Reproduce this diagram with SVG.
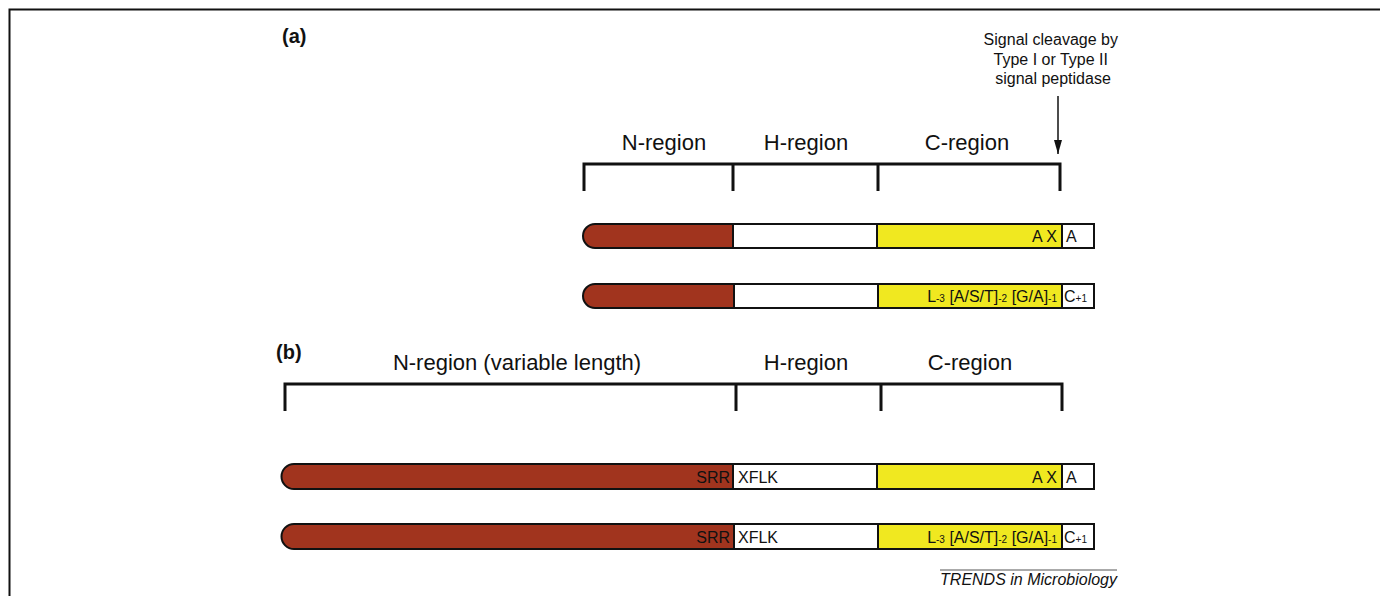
<svg xmlns="http://www.w3.org/2000/svg" width="1380" height="596" viewBox="0 0 1380 596">
  <style>
    .t { font-family: "Liberation Sans", Arial, sans-serif; fill: #111; }
    .lab { font-size: 22px; text-anchor: middle; }
    .seg { stroke: #111; stroke-width: 2; }
    .n { fill: #a1341e; }
    .h { fill: #ffffff; }
    .c { fill: #f0e820; }
    .brk { fill: none; stroke: #111; stroke-width: 3; }
    .in { font-size: 16px; }
    .sub { font-size: 10px; }
  </style>
  <defs>
    <marker id="arrow" viewBox="0 0 14 8" refX="14" refY="4" markerWidth="14" markerHeight="8" orient="auto" markerUnits="userSpaceOnUse">
      <path d="M0,0 L14,4 L0,8 z" fill="#111"/>
    </marker>
  </defs>

  <rect width="1380" height="596" fill="#fff"/>
  <!-- frame -->
  <path d="M1380,9.5 H9.5 V596" fill="none" stroke="#111" stroke-width="2"/>

  <!-- panel (a) -->
  <text class="t" x="282" y="43" font-size="20" font-weight="bold">(a)</text>

  <g id="a-brackets">
    <path class="brk" d="M584,191 V164 H1060 V191 M733,164 V191 M878,164 V191"/>
    <text class="t lab" x="664" y="150">N-region</text>
    <text class="t lab" x="806" y="150">H-region</text>
    <text class="t lab" x="967" y="150">C-region</text>
  </g>

  <g id="cleavage-label">
    <text class="t" font-size="16" text-anchor="middle">
      <tspan x="1053" y="45">Signal cleavage by</tspan>
      <tspan x="1053" y="65">Type I or Type II</tspan>
      <tspan x="1053" y="84">signal peptidase</tspan>
    </text>
  </g>

  <g id="connectors">
    <line x1="1058" y1="96" x2="1058" y2="154" stroke="#111" stroke-width="1.5" marker-end="url(#arrow)"/>
  </g>

  <g id="a-row1">
    <path class="seg n" d="M733,224 H595 A12,12 0 0 0 595,248 H733 Z"/>
    <rect class="seg h" x="733" y="224" width="144" height="24"/>
    <rect class="seg c" x="877" y="224" width="185" height="24"/>
    <rect class="seg h" x="1062" y="224" width="32" height="24"/>
    <text class="t in" x="1057" y="242" text-anchor="end">A X</text>
    <text class="t in" x="1066" y="242">A</text>
  </g>

  <g id="a-row2">
    <path class="seg n" d="M734,284 H595 A12,12 0 0 0 595,308 H734 Z"/>
    <rect class="seg h" x="734" y="284" width="144" height="24"/>
    <rect class="seg c" x="878" y="284" width="184" height="24"/>
    <rect class="seg h" x="1062" y="284" width="32" height="24"/>
    <text class="t in" x="1057" y="302" text-anchor="end">L<tspan class="sub">-3</tspan> [A/S/T]<tspan class="sub">-2</tspan> [G/A]<tspan class="sub">-1</tspan></text>
    <text class="t in" x="1064" y="302">C<tspan class="sub">+1</tspan></text>
  </g>

  <!-- panel (b) -->
  <text class="t" x="276" y="359" font-size="20" font-weight="bold">(b)</text>

  <g id="b-brackets">
    <path class="brk" d="M285,411 V384 H1062 V411 M736,384 V411 M881,384 V411"/>
    <text class="t lab" x="517" y="370">N-region (variable length)</text>
    <text class="t lab" x="806" y="370">H-region</text>
    <text class="t lab" x="970" y="370">C-region</text>
  </g>

  <g id="b-row1">
    <path class="seg n" d="M733,464 H294 A12.5,12.5 0 0 0 294,489 H733 Z"/>
    <rect class="seg h" x="733" y="464" width="144" height="25"/>
    <rect class="seg c" x="877" y="464" width="185" height="25"/>
    <rect class="seg h" x="1062" y="464" width="32" height="25"/>
    <text class="t in" x="730" y="483" text-anchor="end">SRR</text>
    <text class="t in" x="738" y="483">XFLK</text>
    <text class="t in" x="1057" y="483" text-anchor="end">A X</text>
    <text class="t in" x="1066" y="483">A</text>
  </g>

  <g id="b-row2">
    <path class="seg n" d="M734,524 H294 A12.5,12.5 0 0 0 294,549 H734 Z"/>
    <rect class="seg h" x="734" y="524" width="144" height="25"/>
    <rect class="seg c" x="878" y="524" width="184" height="25"/>
    <rect class="seg h" x="1062" y="524" width="32" height="25"/>
    <text class="t in" x="730" y="543" text-anchor="end">SRR</text>
    <text class="t in" x="738" y="543">XFLK</text>
    <text class="t in" x="1057" y="543" text-anchor="end">L<tspan class="sub">-3</tspan> [A/S/T]<tspan class="sub">-2</tspan> [G/A]<tspan class="sub">-1</tspan></text>
    <text class="t in" x="1064" y="543">C<tspan class="sub">+1</tspan></text>
  </g>

  <!-- journal credit -->
  <line x1="940" y1="570" x2="1117" y2="570" stroke="#555" stroke-width="1"/>
  <text class="t" x="1117" y="585" font-size="16" font-style="italic" text-anchor="end" fill="#222">TRENDS in Microbiology</text>
</svg>
